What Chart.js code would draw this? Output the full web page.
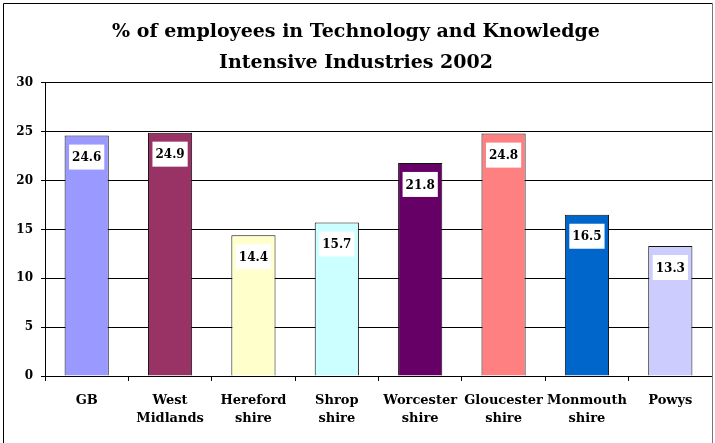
<!DOCTYPE html>
<html>
<head>
<meta charset="utf-8">
<script src="https://cdn.jsdelivr.net/npm/chart.js@4.4.1/dist/chart.umd.min.js"></script>
<style>
  html, body { margin: 0; padding: 0; background: #fff; }
  #wrap { width: 715px; height: 443px; }
</style>
</head>
<body>
<div id="wrap"><canvas id="employees-chart" width="715" height="443"></canvas></div>
<script>
// Regiões e percentagens de empregados (2002)
const regions = [
    ['GB'], ['West', 'Midlands'], ['Hereford', 'shire'], ['Shrop', 'shire'],
    ['Worcester', 'shire'], ['Gloucester', 'shire'], ['Monmouth', 'shire'], ['Powys']
];
const percentages = [24.6, 24.9, 14.4, 15.7, 21.8, 24.8, 16.5, 13.3];
const barColors = ['#9999FF', '#993366', '#FFFFCC', '#CCFFFF', '#660066', '#FF8080', '#0066CC', '#CCCCFF'];
const yTicks = [0, 5, 10, 15, 20, 25, 30];

const serif = "'DejaVu Serif', 'Liberation Serif', serif";

// Moldura exterior do gráfico
const framePlugin = {
    id: 'frame',
    afterDraw(chart) {
        const ctx = chart.ctx;
        ctx.save();
        ctx.strokeStyle = '#000';
        ctx.lineWidth = 1;
        ctx.beginPath();
        ctx.moveTo(3.5, 443);
        ctx.lineTo(3.5, 3.5);
        ctx.lineTo(712.5, 3.5);
        ctx.stroke();
        ctx.strokeStyle = '#777';
        ctx.beginPath();
        ctx.moveTo(712.5, 3.5);
        ctx.lineTo(712.5, 443);
        ctx.stroke();
        ctx.restore();
    }
};

// Etiquetas de valor com fundo branco dentro de cada barra
const valueLabels = {
    id: 'valueLabels',
    afterDatasetsDraw(chart) {
        const ctx = chart.ctx;
        const meta = chart.getDatasetMeta(0);
        ctx.save();
        ctx.font = 'bold 12px ' + serif;
        ctx.textAlign = 'center';
        ctx.textBaseline = 'middle';
        meta.data.forEach(function(bar, i) {
            const text = percentages[i].toFixed(1);
            const w = ctx.measureText(text).width + 6;
            const h = 25;
            const top = bar.y + 9;
            ctx.fillStyle = '#fff';
            ctx.fillRect(bar.x - w / 2, top, w, h);
            ctx.fillStyle = '#000';
            ctx.fillText(text, bar.x, top + h / 2 + 1);
        });
        ctx.restore();
    }
};

const ctx = document.getElementById('employees-chart').getContext('2d');
const chart = new Chart(ctx, {
    type: 'bar',
    data: {
        labels: regions,
        datasets: [{
            data: percentages,
            backgroundColor: barColors,
            borderColor: '#111',
            borderWidth: 1,
            categoryPercentage: 1,
            barPercentage: 0.53
        }]
    },
    options: {
        responsive: false,
        animation: false,
        layout: { padding: { left: 0, right: 3, top: 0, bottom: 0 } },
        plugins: {
            legend: { display: false },
            tooltip: { enabled: false },
            title: {
                display: true,
                text: ['% of employees in Technology and Knowledge', 'Intensive Industries 2002'],
                color: '#000',
                font: { family: serif, size: 19, weight: 'bold', lineHeight: 1.6 },
                padding: { top: 17, bottom: 5 }
            }
        },
        scales: {
            x: {
                offset: true,
                grid: {
                    offset: true,
                    drawOnChartArea: false,
                    color: '#000',
                    tickLength: 5
                },
                border: { color: '#000' },
                ticks: {
                    color: '#000',
                    padding: 11,
                    maxRotation: 0,
                    autoSkip: false,
                    font: { family: serif, size: 13, weight: 'bold', lineHeight: 1.38 }
                },
                afterFit(scale) { scale.height = 67; }
            },
            y: {
                min: 0,
                max: 30,
                afterBuildTicks(scale) { scale.ticks = yTicks.map(v => ({ value: v })); },
                grid: { color: '#000', tickLength: 4 },
                border: { color: '#000' },
                ticks: {
                    color: '#000',
                    padding: 8,
                    font: { family: serif, size: 12, weight: 'bold' }
                },
                afterFit(scale) { scale.width = 45; }
            }
        }
    },
    plugins: [valueLabels, framePlugin]
});
</script>
</body>
</html>
